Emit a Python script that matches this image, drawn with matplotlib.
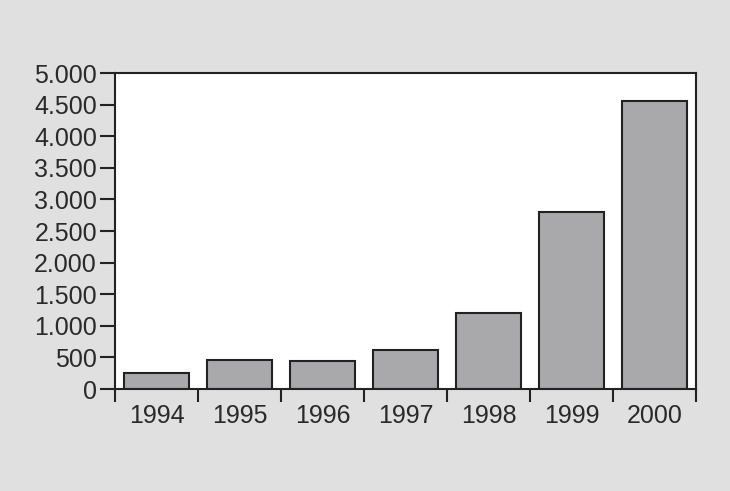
import matplotlib

matplotlib.use("Agg")

import matplotlib.pyplot as plt
import numpy as np
from matplotlib.ticker import FuncFormatter

years = ["1994", "1995", "1996", "1997", "1998", "1999", "2000"]
values = [250, 460, 445, 620, 1200, 2800, 4550]
y_ticks = [0, 500, 1000, 1500, 2000, 2500, 3000, 3500, 4000, 4500, 5000]

BG = "#e0e0e0"
BAR = "#a9a9ab"
EDGE = "#222222"

plt.rcParams["font.family"] = ["Liberation Sans", "DejaVu Sans"]

fig = plt.figure(figsize=(7.3, 4.91), dpi=100, facecolor=BG)
ax = fig.add_axes([0.1575, 0.2077, 0.7959, 0.6436])
ax.set_facecolor("white")

x = np.arange(len(years)) + 0.5
ax.bar(x, values, width=0.78, color=BAR, edgecolor=EDGE, linewidth=1.5, zorder=2)

ax.set_xlim(0, len(years))
ax.set_ylim(0, 5000)

# y axis: dotted thousands, ticks pointing left
ax.set_yticks(y_ticks)
ax.yaxis.set_major_formatter(FuncFormatter(lambda v, p: f"{int(v):,}".replace(",", ".")))
ax.tick_params(axis="y", direction="out", length=11, width=1.5, color=EDGE,
               labelsize=18, labelcolor="#2a2a2a", pad=2)

# x axis: separator ticks on the category edges, labels in between
ax.set_xticks(np.arange(len(years) + 1))
ax.set_xticklabels([])
ax.set_xticks(x, minor=True)
ax.set_xticklabels(years, minor=True)
ax.tick_params(axis="x", which="major", direction="out", length=9, width=1.5, color=EDGE)
ax.tick_params(axis="x", which="minor", length=0, labelsize=18, labelcolor="#2a2a2a", pad=11)

for s in ax.spines.values():
    s.set_linewidth(1.5)
    s.set_color(EDGE)

fig.savefig("out.png", dpi=100, facecolor=BG)
